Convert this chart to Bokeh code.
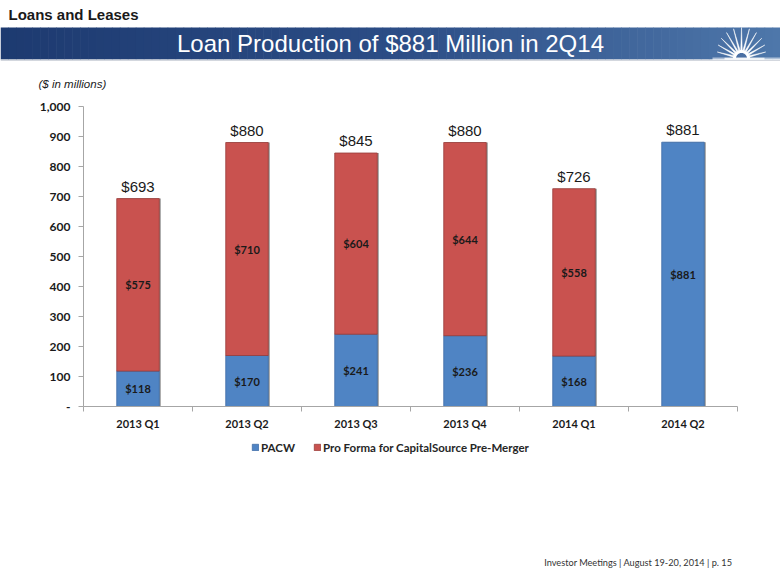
import math
from bokeh.plotting import figure
from bokeh.models import Range1d, FixedTicker, Legend, LegendItem, ColumnDataSource
from bokeh.core.properties import value
from bokeh.embed import file_html
from bokeh.resources import INLINE

# ---------------- data ----------------
categories = ["2013 Q1", "2013 Q2", "2013 Q3", "2013 Q4", "2014 Q1", "2014 Q2"]
pacw = [118, 170, 241, 236, 168, 881]
pro_forma = [575, 710, 604, 644, 558, 0]
series_names = ["PACW", "Pro Forma for CapitalSource Pre-Merger"]
y_ticks = [0, 100, 200, 300, 400, 500, 600, 700, 800, 900, 1000]
y_tick_labels = ["-", "100", "200", "300", "400", "500", "600", "700", "800", "900", "1,000"]

section_title = "Loans and Leases"
banner_title = "Loan Production of $881 Million in 2Q14"
units_note = "($ in millions)"
footer_text = "Investor Meetings | August 19-20, 2014 | p. 15"

BLUE = "#4f84c4"
RED = "#c9524f"
BLUE_EDGE = "#3f6ca6"
RED_EDGE = "#983c3a"
TXT = "#1a1a1a"

W = 780
TOTAL_H = 584
HH = 93      # header: page y 0..93
CH = 342     # chart: page y 93..435
FH = TOTAL_H - HH - CH  # footer: page y 435..584

# ---------------- header ----------------
hdr = figure(width=W, height=HH, x_range=Range1d(0, W), y_range=Range1d(HH, 0),
             x_axis_type=None, y_axis_type=None, output_backend="svg",
             toolbar_location=None, min_border=0)
hdr.outline_line_color = None
hdr.background_fill_color = "white"
hdr.border_fill_color = "white"

stops = [(0, (29, 58, 112)), (400, (44, 77, 134)), (780, (78, 119, 170))]
def col_at(x):
    for (x0, c0), (x1, c1) in zip(stops[:-1], stops[1:]):
        if x0 <= x <= x1:
            t = (x - x0) / (x1 - x0)
            return "#%02x%02x%02x" % tuple(int(round(a + (b - a) * t)) for a, b in zip(c0, c1))
    return "#%02x%02x%02x" % stops[-1][1]
n = 98
step = W / n
lefts = [i * step for i in range(n)]
hdr.quad(left=lefts, right=[l + step + 0.6 for l in lefts], top=[27] * n, bottom=[59] * n,
         fill_color=[col_at(l + step / 2) for l in lefts], line_color=None)
hdr.quad(left=[0], right=[W], top=[59], bottom=[60.5], fill_color="#d3d7de", line_color=None)

# sun logo
cx, cy = 741, 58
xs, ys = [], []
for i in range(11):
    a = math.radians(15 + i * 15)
    r = 23 + 8 * math.sin(a)
    da = math.radians(5.5)
    rb = 8
    xs.append([cx + r * math.cos(a), cx + rb * math.cos(a - da), cx + rb * math.cos(a + da)])
    ys.append([cy - r * math.sin(a), cy - rb * math.sin(a - da), cy - rb * math.sin(a + da)])
hdr.patches(xs, ys, fill_color="white", line_color="white", line_width=0.5)
def half_disc(r):
    angs = [math.pi * k / 30 for k in range(31)]
    return [cx + r * math.cos(t) for t in angs], [cy - r * math.sin(t) for t in angs]
sx, sy = half_disc(8.5)
hdr.patch(sx, sy, fill_color="white", line_color=None)
sx, sy = half_disc(5.5)
hdr.patch(sx, sy, fill_color="#4a6fa3", line_color=None)
hdr.quad(left=[712], right=[780], top=[57], bottom=[59.5], fill_color="white", fill_alpha=0.55, line_color=None)
hdr.quad(left=[724], right=[764], top=[57.3], bottom=[59.2], fill_color="white", fill_alpha=0.8, line_color=None)

hdr.text(x=[8], y=[13.5], text=[section_title], text_font=value("Liberation Sans"),
         text_font_style="bold", text_font_size="15px", text_color=TXT,
         text_align="left", text_baseline="middle")
hdr.text(x=[390], y=[43], text=[banner_title], text_font=value("Liberation Sans"),
         text_font_size="24px", text_color="white", text_align="center", text_baseline="middle")
hdr.text(x=[38], y=[83], text=[units_note], text_font=value("Liberation Sans"),
         text_font_style="italic", text_font_size="11.5px", text_color=TXT,
         text_align="left", text_baseline="middle")

# ---------------- chart ----------------
p = figure(width=W, height=CH, x_range=Range1d(0, len(categories)), y_range=Range1d(0, 1000),
           output_backend="svg", toolbar_location=None,
           min_border_left=83, min_border_right=43, min_border_top=13, min_border_bottom=29)
p.outline_line_color = None
p.xgrid.visible = False
p.ygrid.visible = False

xpos = [i + 0.5 for i in range(len(categories))]
totals = [a + b for a, b in zip(pacw, pro_forma)]
BW = 0.39

p.vbar(x=[x + 0.014 for x in xpos], top=totals, width=BW, fill_color="#404040", fill_alpha=0.55, line_color=None)

blue_src = ColumnDataSource(dict(x=xpos, top=pacw, lab=["$%d" % v for v in pacw],
                                 mid=[v / 2 for v in pacw]))
p.vbar(x="x", top="top", width=BW, source=blue_src, fill_color=BLUE,
       line_color=BLUE_EDGE, line_width=0.8)
idx = [i for i, v in enumerate(pro_forma) if v > 0]
red_src = ColumnDataSource(dict(x=[xpos[i] for i in idx], bottom=[pacw[i] for i in idx],
                                top=[totals[i] for i in idx],
                                lab=["$%d" % pro_forma[i] for i in idx],
                                mid=[pacw[i] + pro_forma[i] / 2 for i in idx]))
p.vbar(x="x", bottom="bottom", top="top", width=BW, source=red_src, fill_color=RED,
       line_color=RED_EDGE, line_width=0.8)

lab_kw = dict(text_align="center", text_baseline="middle", text_font=value("Lato"),
              text_font_style="bold", text_font_size="11px", text_color=TXT)
p.text(x="x", y="mid", text="lab", source=blue_src, **lab_kw)
p.text(x="x", y="mid", text="lab", source=red_src, **lab_kw)

p.text(x=xpos, y=totals, text=["$%d" % t for t in totals], y_offset=-4,
       text_align="center", text_baseline="bottom", text_font=value("Liberation Sans"),
       text_font_size="15px", text_color=TXT)

AX = "#a6a6a6"
yax = p.yaxis[0]
yax.ticker = FixedTicker(ticks=y_ticks)
yax.major_label_overrides = {t: l for t, l in zip(y_ticks, y_tick_labels)}
yax.axis_line_color = AX
yax.major_tick_line_color = AX
yax.major_tick_out = 5
yax.major_tick_in = 0
yax.minor_tick_line_color = None
yax.major_label_standoff = 8
yax.major_label_text_font = "Lato"
yax.major_label_text_font_style = "bold"
yax.major_label_text_font_size = "12px"
yax.major_label_text_color = TXT

xax = p.xaxis[0]
xax.ticker = FixedTicker(ticks=xpos, minor_ticks=list(range(len(categories) + 1)))
xax.major_label_overrides = {x: c for x, c in zip(xpos, categories)}
xax.axis_line_color = AX
xax.major_tick_line_color = None
xax.major_tick_out = 0
xax.major_tick_in = 0
xax.minor_tick_line_color = AX
xax.minor_tick_out = 5
xax.minor_tick_in = 0
xax.major_label_standoff = 5
xax.major_label_text_font = "Lato"
xax.major_label_text_font_style = "bold"
xax.major_label_text_font_size = "11px"
xax.major_label_text_color = TXT

# ---------------- footer (legend + footnote) ----------------
FY0 = HH + CH
ftr = figure(width=W, height=FH, x_range=Range1d(0, W), y_range=Range1d(FY0 + FH, FY0),
             x_axis_type=None, y_axis_type=None, output_backend="svg",
             toolbar_location=None, min_border=0)
ftr.outline_line_color = None
ftr.xgrid.visible = False
ftr.ygrid.visible = False
# legend key renderers (kept outside the visible range; only their swatches are shown)
lb = ftr.vbar(x=[-50], top=[FY0 + FH], bottom=[FY0 + FH], width=1, fill_color=BLUE,
              line_color=BLUE_EDGE, line_width=0.8)
lr = ftr.vbar(x=[-50], top=[FY0 + FH], bottom=[FY0 + FH], width=1, fill_color=RED,
              line_color=RED_EDGE, line_width=0.8)
legend = Legend(items=[LegendItem(label=series_names[0], renderers=[lb]),
                       LegendItem(label=series_names[1], renderers=[lr])],
                orientation="horizontal", location=(251, FY0 + FH - 454),
                border_line_color=None, background_fill_alpha=0, padding=0, margin=0,
                spacing=18, label_standoff=2, glyph_width=8, glyph_height=8,
                label_text_font="Lato", label_text_font_style="bold",
                label_text_font_size="11.5px", label_text_color="#262626", label_height=14)
ftr.add_layout(legend)
ftr.text(x=[732], y=[562], text=[footer_text], text_font=value("Lato"), text_font_size="9.2px",
         text_color="#333333", text_align="right", text_baseline="middle")

open("out.html", "w").write(file_html([hdr, p, ftr], INLINE))
